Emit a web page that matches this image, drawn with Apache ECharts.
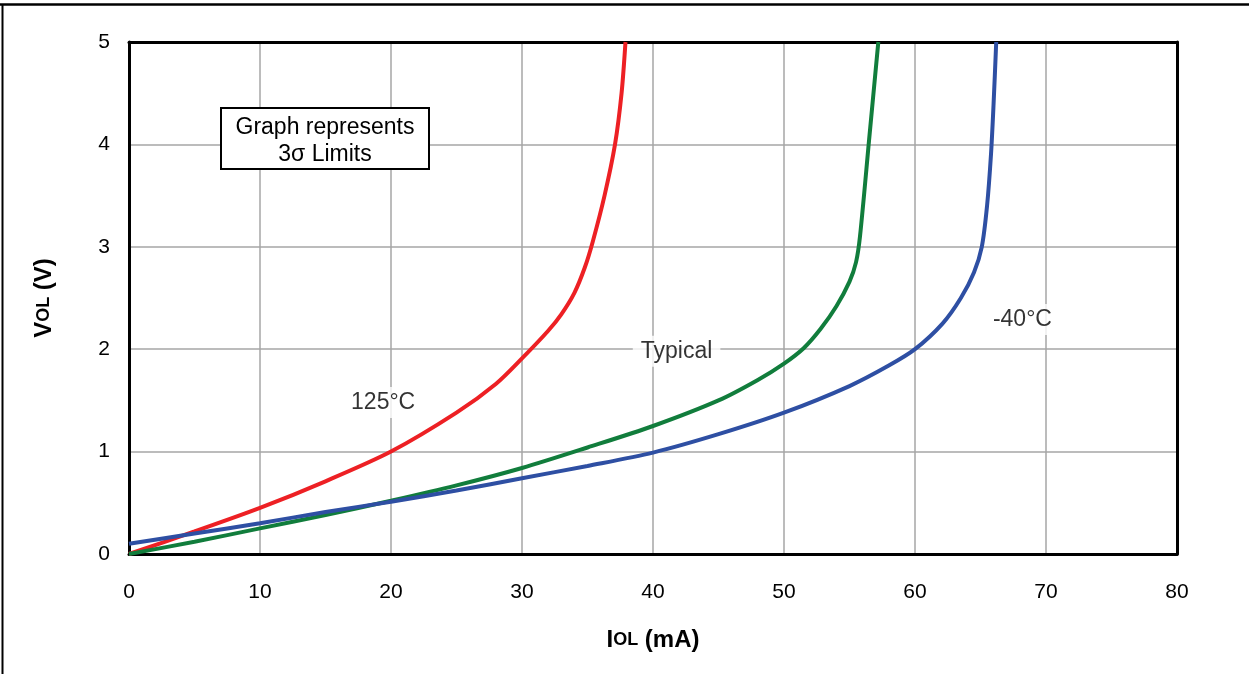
<!DOCTYPE html>
<html>
<head>
<meta charset="utf-8">
<script src="https://cdn.jsdelivr.net/npm/echarts@6/dist/echarts.min.js"></script>
<style>
html,body{margin:0;padding:0;background:#fff;}
#c{width:1249px;height:674px;}
</style>
</head>
<body>
<div id="c"></div>
<script>
// I_OL (mA) and V_OL (V) readings
const hotI   = [0, 5, 10, 15, 20, 25, 28, 30, 32, 33, 34, 34.8, 35.4, 36.3, 37.1, 37.6, 37.9];
const hotV   = [0, 0.22, 0.45, 0.71, 1.0, 1.38, 1.66, 1.91, 2.18, 2.34, 2.55, 2.8, 3.05, 3.5, 4.0, 4.5, 5.0];
const typI   = [0, 5, 10, 15, 20, 25, 30, 35, 40, 45, 48, 50, 51.5, 52.8, 54, 55, 55.5, 55.8, 56.5, 57.2];
const typV   = [0, 0.12, 0.25, 0.38, 0.52, 0.67, 0.84, 1.04, 1.25, 1.5, 1.7, 1.86, 2.01, 2.2, 2.42, 2.66, 2.85, 3.1, 4.05, 5.0];
const coldI  = [0, 5, 10, 15, 20, 25, 30, 35, 40, 45, 50, 55, 58, 60, 62.1, 63.5, 64.5, 65.1, 65.5, 65.8, 66.0, 66.2];
const coldV  = [0.1, 0.2, 0.3, 0.41, 0.51, 0.62, 0.74, 0.86, 0.99, 1.17, 1.38, 1.64, 1.84, 2.0, 2.25, 2.5, 2.75, 3.0, 3.4, 3.9, 4.4, 5.0];
const seriesNames = ['125°C', 'Typical', '-40°C'];
const labelPos = [[19.4, 1.48], [41.8, 1.98], [68.2, 2.29]];
const xTicks = [0, 10, 20, 30, 40, 50, 60, 70, 80];
const yTicks = [0, 1, 2, 3, 4, 5];
const noteLines = ['Graph represents', '3σ Limits'];

const zip = (a, b) => a.map((v, i) => [v, b[i]]);
const FONT = '"Liberation Sans", Arial, sans-serif';
const colors = ['#ED2024', '#117D3C', '#2E4FA3'];
const curves = [zip(hotI, hotV), zip(typI, typV), zip(coldI, coldV)];

const chart = echarts.init(document.getElementById('c'), null, {renderer: 'canvas'});
const series = curves.map((d, i) => ({
  name: seriesNames[i], type: 'line', data: d, smooth: 0.3, showSymbol: false, symbol: 'none',
  lineStyle: {color: colors[i], width: 4}, z: 3, animation: false
}));
series.push({
  type: 'scatter', symbolSize: 0, z: 5, animation: false,
  data: labelPos.map((p, i) => ({value: p, name: seriesNames[i]})),
  label: {show: true, position: 'inside', formatter: p => p.name,
    color: '#000', fontSize: 23, fontFamily: FONT, backgroundColor: '#fff', padding: [4, 8]}
});

const titleRich = {
  a: {fontSize: 24, fontWeight: 'bold', fontFamily: FONT, color: '#000'},
  b: {fontSize: 18, fontWeight: 'bold', fontFamily: FONT, color: '#000'}
};

chart.setOption({
  animation: false,
  backgroundColor: '#fff',
  grid: {left: 129, right: 72, top: 42, bottom: 120},
  xAxis: [{
    type: 'value', min: xTicks[0], max: xTicks[xTicks.length - 1], interval: 10,
    axisLine: {show: true, lineStyle: {color: '#000', width: 3}},
    axisTick: {show: false},
    axisLabel: {color: '#000', fontSize: 21, fontFamily: FONT, margin: 28},
    splitLine: {show: true, lineStyle: {color: '#A6A6A6', width: 1.5}},
    name: '{a|I}{b|OL}{a| (mA)}', nameLocation: 'middle', nameGap: 74,
    nameTextStyle: {rich: titleRich}
  }, {
    type: 'value', position: 'top', min: xTicks[0], max: xTicks[xTicks.length - 1], interval: 10,
    axisLine: {show: true, onZero: false, lineStyle: {color: '#000', width: 3}},
    axisTick: {show: false}, axisLabel: {show: false}, splitLine: {show: false}
  }],
  yAxis: [{
    type: 'value', min: yTicks[0], max: yTicks[yTicks.length - 1], interval: 1,
    axisLine: {show: true, lineStyle: {color: '#000', width: 3}},
    axisTick: {show: false},
    axisLabel: {color: '#000', fontSize: 21, fontFamily: FONT, margin: 19},
    splitLine: {show: true, lineStyle: {color: '#A6A6A6', width: 1.5}},
    name: '{a|V}{b|OL}{a| (V)}', nameLocation: 'middle', nameGap: 73, nameRotate: 90,
    nameTextStyle: {rich: titleRich}
  }, {
    type: 'value', position: 'right', min: yTicks[0], max: yTicks[yTicks.length - 1], interval: 1,
    axisLine: {show: true, onZero: false, lineStyle: {color: '#000', width: 3}},
    axisTick: {show: false}, axisLabel: {show: false}, splitLine: {show: false}
  }],
  graphic: [
    {type: 'line', shape: {x1: 0, y1: 4.5, x2: 1249, y2: 4.5}, style: {stroke: '#000', lineWidth: 2.5}, z: 10},
    {type: 'line', shape: {x1: 2.5, y1: 4, x2: 2.5, y2: 674}, style: {stroke: '#000', lineWidth: 2}, z: 10},
    {type: 'rect', shape: {x: 221, y: 108, width: 208, height: 61},
      style: {fill: '#fff', stroke: '#000', lineWidth: 2}, z: 10},
    {type: 'text', x: 325, y: 141, z: 11,
      style: {text: noteLines.join('\n'), font: '23px ' + FONT, fill: '#000', align: 'center',
        verticalAlign: 'middle', lineHeight: 27}}
  ],
  series: series
});
</script>
</body>
</html>
